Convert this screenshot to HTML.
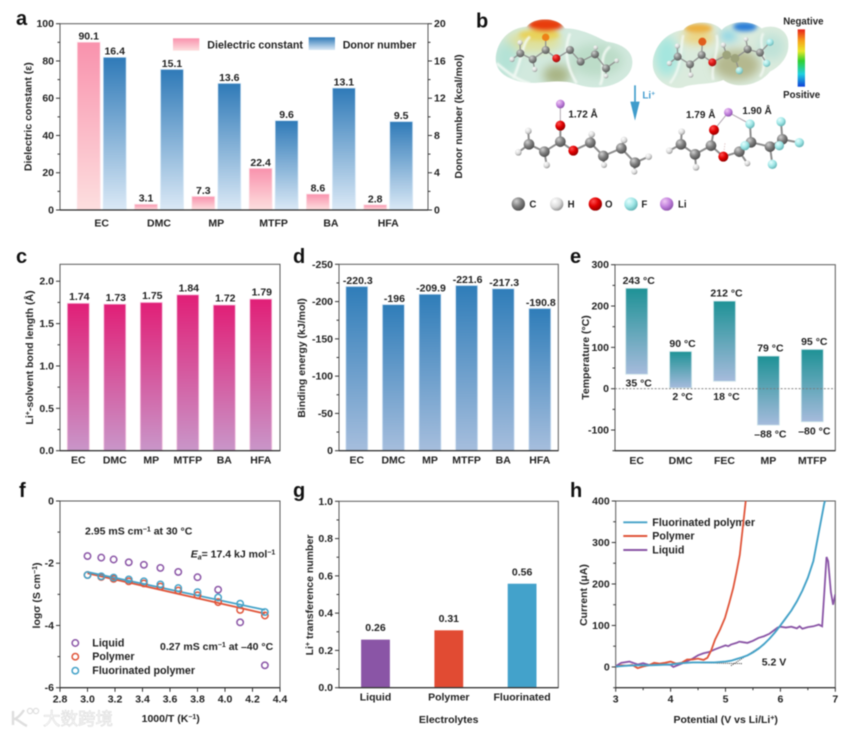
<!DOCTYPE html>
<html lang="en">
<head>
<meta charset="utf-8">
<title>Electrolyte solvent properties figure</title>
<style>
html,body{margin:0;padding:0;background:#fff;}
#figure{display:block;filter:blur(.45px);font-family:"Liberation Sans","Noto Sans CJK SC",sans-serif;}
#figure text{font-weight:700;fill:#222;font-size:10.5px;}
#figure .letter{font-size:20px;fill:#111;}
#figure .t10{font-size:10.7px;}
.c{fill:url(#atom-c);} .h{fill:url(#atom-h);} .o{fill:url(#atom-o);} .f{fill:url(#atom-f);} .li{fill:url(#atom-li);}
.bond{stroke:#8d8d8d;stroke-width:6;fill:none;stroke-linecap:round;}
.thin{stroke:#b0a6b0;stroke-width:3;fill:none;}
</style>
</head>
<body>
<svg id="figure" xmlns="http://www.w3.org/2000/svg" width="858" height="735" viewBox="0 0 858 735">
<defs>
<linearGradient id="g-pink" x1="0" y1="0" x2="0" y2="1"><stop offset="0" stop-color="#f992ad"/><stop offset="1" stop-color="#fddfdf"/></linearGradient>
<linearGradient id="g-blue" x1="0" y1="0" x2="0" y2="1"><stop offset="0" stop-color="#2f7ab8"/><stop offset="1" stop-color="#dbe9f6"/></linearGradient>
<linearGradient id="g-magenta" x1="0" y1="0" x2="0" y2="1"><stop offset="0" stop-color="#e11f77"/><stop offset="1" stop-color="#c996c9"/></linearGradient>
<linearGradient id="g-steel" x1="0" y1="0" x2="0" y2="1"><stop offset="0" stop-color="#2f7db9"/><stop offset="1" stop-color="#a6bedd"/></linearGradient>
<linearGradient id="g-teal" x1="0" y1="0" x2="0" y2="1"><stop offset="0" stop-color="#1e9296"/><stop offset="1" stop-color="#a6bbdc"/></linearGradient>
<linearGradient id="g-rainbow" x1="0" y1="0" x2="0" y2="1"><stop offset="0" stop-color="#e8201a"/><stop offset=".2" stop-color="#f7a21a"/><stop offset=".38" stop-color="#e8e82a"/><stop offset=".55" stop-color="#30d030"/><stop offset=".78" stop-color="#20d0e0"/><stop offset="1" stop-color="#1040d8"/></linearGradient>
<radialGradient id="atom-c" cx=".35" cy=".3" r=".75"><stop offset="0" stop-color="#d0d0d0"/><stop offset=".5" stop-color="#808080"/><stop offset="1" stop-color="#4a4a4a"/></radialGradient>
<radialGradient id="atom-h" cx=".35" cy=".3" r=".75"><stop offset="0" stop-color="#fff"/><stop offset=".6" stop-color="#d8d8d8"/><stop offset="1" stop-color="#8c8c8c"/></radialGradient>
<radialGradient id="atom-o" cx=".35" cy=".3" r=".75"><stop offset="0" stop-color="#ff5050"/><stop offset=".5" stop-color="#e00000"/><stop offset="1" stop-color="#8c0000"/></radialGradient>
<radialGradient id="atom-f" cx=".35" cy=".3" r=".75"><stop offset="0" stop-color="#e6ffff"/><stop offset=".55" stop-color="#9fe6e6"/><stop offset="1" stop-color="#5eaeb0"/></radialGradient>
<radialGradient id="atom-li" cx=".35" cy=".3" r=".75"><stop offset="0" stop-color="#f0c8f4"/><stop offset=".55" stop-color="#c080dc"/><stop offset="1" stop-color="#8a50a8"/></radialGradient>
<filter id="blur-soft" x="-30%" y="-30%" width="160%" height="160%"><feGaussianBlur stdDeviation="14"/></filter>
<filter id="blur-edge" x="-20%" y="-30%" width="140%" height="160%"><feGaussianBlur stdDeviation="6"/></filter>
<filter id="blur-outline" x="-5%" y="-5%" width="110%" height="110%"><feGaussianBlur stdDeviation="2.5"/></filter>
<clipPath id="clip-left"><path d="M137,175C140,130 170,85 230,80C250,52 320,48 345,85C390,85 430,105 470,125C510,130 550,150 547,190C545,235 490,262 440,262C400,265 370,245 340,245C300,240 260,255 210,245C170,235 137,215 137,175Z"/></clipPath>
<clipPath id="clip-right"><path d="M608,190C610,140 650,95 700,90C720,62 790,58 815,90C840,62 900,58 935,85C975,70 1015,90 1015,130C1018,170 990,200 960,215C930,255 860,270 820,240C780,255 720,250 700,262C660,272 608,240 608,190Z"/></clipPath>
<clipPath id="clip-h"><rect x="615.7" y="501" width="219.6" height="186.7"/></clipPath>
</defs>

<!-- Panel letters -->
<text class="letter" x="16" y="25">a</text>
<text class="letter" x="476" y="27.5">b</text>
<text class="letter" x="16" y="263">c</text>
<text class="letter" x="293" y="263">d</text>
<text class="letter" x="570" y="263">e</text>
<text class="letter" x="19" y="497">f</text>
<text class="letter" x="293" y="497">g</text>
<text class="letter" x="570" y="497">h</text>

<!-- Axis titles -->
<text text-anchor="middle" transform="translate(31.5,116.7) rotate(-90)">Dielectric constant (ε)</text>
<text text-anchor="middle" transform="translate(462,116.5) rotate(-90)">Donor number (kcal/mol)</text>
<text text-anchor="middle" transform="translate(33,357.5) rotate(-90)">Li<tspan dy="-3" font-size="7">+</tspan><tspan dy="3">-solvent bond length (Å)</tspan></text>
<text text-anchor="middle" transform="translate(305,358) rotate(-90)">Binding energy (kJ/mol)</text>
<text text-anchor="middle" transform="translate(589,357.5) rotate(-90)">Temperature (°C)</text>
<text text-anchor="middle" transform="translate(40,595.5) rotate(-90)">logσ (S cm<tspan dy="-3" font-size="7">−1</tspan><tspan dy="3">)</tspan></text>
<text text-anchor="middle" x="170.7" y="722">1000/T (K<tspan dy="-3" font-size="7">−1</tspan><tspan dy="3">)</tspan></text>
<text text-anchor="middle" transform="translate(313,595) rotate(-90)">Li<tspan dy="-3" font-size="7">+</tspan><tspan dy="3"> transference number</tspan></text>
<text text-anchor="middle" x="448.7" y="723">Electrolytes</text>
<text text-anchor="middle" transform="translate(587,595) rotate(-90)">Current (μA)</text>
<text text-anchor="middle" x="725.7" y="723">Potential (V vs Li/Li<tspan dy="-3" font-size="7">+</tspan><tspan dy="3">)</tspan></text>

<!-- Panel a legend -->
<g>
<rect x="173" y="38.3" width="26.3" height="12.4" fill="url(#g-pink)"/>
<text class="t10" x="207.3" y="48.7">Dielectric constant</text>
<rect x="308.7" y="37.3" width="26.3" height="12.7" fill="url(#g-blue)"/>
<text class="t10" x="342.7" y="48.3">Donor number</text>
</g>

<!-- Panel b -->
<g transform="translate(450,0) scale(.33333)">
<g clip-path="url(#clip-left)">
<rect x="120" y="30" width="450" height="250" fill="#d2e9de"/>
<g filter="url(#blur-soft)">
<ellipse cx="250" cy="125" rx="85" ry="30" fill="#dfe09a"/>
<ellipse cx="320" cy="225" rx="40" ry="30" fill="#a8b484"/>
<ellipse cx="440" cy="180" rx="80" ry="50" fill="#bcdcc8"/>
<ellipse cx="170" cy="175" rx="35" ry="50" fill="#b4e2d6"/>
</g>
<g filter="url(#blur-edge)">
<ellipse cx="268" cy="105" rx="62" ry="16" fill="#e8d25a"/>
<ellipse cx="287" cy="74" rx="52" ry="20" fill="#e83c0e"/>
</g>
<g filter="url(#blur-outline)">
<path d="M190,235C220,170 215,130 240,110M360,100C340,150 350,200 380,250M480,140C440,170 470,220 450,255M140,190C170,215 200,240 240,250" stroke="#f6fbf7" stroke-width="8" fill="none" opacity=".85"/>
</g>
</g>
<g clip-path="url(#clip-right)">
<rect x="590" y="40" width="450" height="250" fill="#dbebdd"/>
<g filter="url(#blur-soft)">
<ellipse cx="650" cy="170" rx="35" ry="60" fill="#a4e6de"/>
<ellipse cx="860" cy="195" rx="70" ry="45" fill="#b4b88e"/>
<ellipse cx="965" cy="140" rx="40" ry="40" fill="#bfe2d8"/>
<ellipse cx="745" cy="112" rx="50" ry="18" fill="#f0d070"/>
<ellipse cx="835" cy="108" rx="26" ry="14" fill="#70cce8"/>
</g>
<g filter="url(#blur-edge)">
<ellipse cx="745" cy="85" rx="42" ry="14" fill="#ecb040"/>
<ellipse cx="885" cy="80" rx="36" ry="14" fill="#2a7ed8"/>
</g>
<g filter="url(#blur-outline)">
<path d="M660,250C700,200 690,140 700,105M790,240C780,200 810,150 800,105M940,100C920,130 960,190 930,230" stroke="#f6fbf6" stroke-width="7" fill="none" opacity=".8"/>
</g>
</g>

<g opacity=".9">
<path class="bond" style="stroke-width:4" d="M287,112L287,150L248,178L211,160M287,150L319,175L360,150L392,185L435,163L468,205M211,160L210,128M211,160L186,178M248,178L254,208M468,205L500,182M468,205L468,228"/>
<circle class="o" style="fill:#ee7a10" cx="287" cy="112" r="11"/>
<circle class="c" cx="287" cy="150" r="12"/>
<circle class="c" cx="248" cy="178" r="12"/>
<circle class="c" cx="211" cy="160" r="12"/>
<circle class="h" cx="210" cy="128" r="8"/>
<circle class="h" cx="186" cy="178" r="8"/>
<circle class="h" cx="254" cy="208" r="8"/>
<circle class="o" cx="319" cy="175" r="12"/>
<circle class="c" cx="360" cy="150" r="12"/>
<circle class="c" cx="392" cy="185" r="12"/>
<circle class="c" cx="435" cy="163" r="12"/>
<circle class="h" cx="437" cy="143" r="7"/>
<circle class="c" cx="468" cy="205" r="12"/>
<circle class="h" cx="500" cy="182" r="7"/>
<circle class="h" cx="468" cy="228" r="7"/>
</g>

<g opacity=".9">
<path class="bond" style="stroke-width:4" d="M757,125L755,165L720,193L683,170M755,165L787,187L830,165L855,175L893,148L930,158M683,170L682,138M683,170L658,190M720,193L722,225M855,175L868,212M830,165L820,135M893,148L888,118M930,158L960,127M930,158L950,190"/>
<circle class="o" style="fill:#e0500e" cx="757" cy="125" r="12"/>
<circle class="c" cx="755" cy="165" r="12"/>
<circle class="c" cx="720" cy="193" r="12"/>
<circle class="c" cx="683" cy="170" r="12"/>
<circle class="h" cx="682" cy="138" r="8"/>
<circle class="h" cx="658" cy="190" r="8"/>
<circle class="h" cx="722" cy="225" r="8"/>
<circle class="o" cx="787" cy="187" r="12"/>
<circle class="c" style="fill:#9aa078" cx="830" cy="165" r="13"/>
<circle class="h" cx="820" cy="135" r="8"/>
<circle class="c" style="fill:#9aa078" cx="855" cy="175" r="13"/>
<circle class="f" cx="868" cy="212" r="11"/>
<circle class="c" cx="893" cy="148" r="12"/>
<circle class="h" cx="888" cy="118" r="7"/>
<circle class="c" cx="930" cy="158" r="12"/>
<circle class="f" cx="960" cy="127" r="11"/>
<circle class="f" cx="950" cy="190" r="11"/>
</g>

<g>
<path class="thin" d="M331,312L331,377"/>
<path class="bond" d="M331,377L331,425L283,455L237,433M331,425L370,452L421,428L460,468L514,445L555,488M237,433L235,393M237,433L205,457M283,455L290,495M421,428L425,403M460,468L462,495M514,445L522,420M555,488L596,470M555,488L553,515" />
<circle class="li" cx="331" cy="312" r="13"/>
<circle class="o" cx="331" cy="377" r="15"/>
<circle class="c" cx="331" cy="425" r="16"/>
<circle class="c" cx="283" cy="455" r="16"/>
<circle class="c" cx="237" cy="433" r="16"/>
<circle class="h" cx="235" cy="393" r="10"/>
<circle class="h" cx="205" cy="457" r="10"/>
<circle class="h" cx="290" cy="495" r="10"/>
<circle class="o" cx="370" cy="452" r="15"/>
<circle class="c" cx="421" cy="428" r="16"/>
<circle class="h" cx="425" cy="403" r="10"/>
<circle class="c" cx="460" cy="468" r="16"/>
<circle class="h" cx="462" cy="495" r="9"/>
<circle class="c" cx="514" cy="445" r="16"/>
<circle class="h" cx="522" cy="420" r="10"/>
<circle class="c" cx="555" cy="488" r="16"/>
<circle class="h" cx="596" cy="470" r="10"/>
<circle class="h" cx="553" cy="515" r="9"/>
</g>

<g>
<path class="thin" d="M835,337L792,390M835,337L900,372"/>
<path class="thin" stroke-dasharray="4 4" style="stroke:#e0c8c8" d="M825,430L820,470"/>
<path class="bond" d="M792,390L783,437L735,463L693,433M783,437L820,470L868,455L903,427L960,440L997,418M693,433L695,395M693,433L658,452M735,463L738,502M868,455L892,490M903,427L900,372M903,427L885,437M960,440L967,493M960,440L988,437M997,418L993,365M997,418L1048,428"/>
<circle class="li" cx="835" cy="337" r="13"/>
<circle class="o" cx="792" cy="390" r="15"/>
<circle class="c" cx="783" cy="437" r="16"/>
<circle class="c" cx="735" cy="463" r="16"/>
<circle class="c" cx="693" cy="433" r="16"/>
<circle class="h" cx="695" cy="395" r="10"/>
<circle class="h" cx="658" cy="452" r="10"/>
<circle class="h" cx="738" cy="502" r="10"/>
<circle class="o" cx="820" cy="470" r="15"/>
<circle class="c" cx="868" cy="455" r="16"/>
<circle class="h" cx="892" cy="490" r="9"/>
<circle class="c" cx="903" cy="427" r="16"/>
<circle class="f" cx="900" cy="372" r="14"/>
<circle class="f" cx="885" cy="437" r="14"/>
<circle class="c" cx="960" cy="440" r="16"/>
<circle class="f" cx="967" cy="493" r="14"/>
<circle class="c" cx="997" cy="418" r="16"/>
<circle class="f" cx="988" cy="437" r="14"/>
<circle class="f" cx="993" cy="365" r="14"/>
<circle class="f" cx="1048" cy="428" r="14"/>
</g>

<g>
<circle class="c" cx="205" cy="612" r="20"/>
<text x="238" y="623" style="font-size:29px">C</text>
<circle class="h" cx="320" cy="612" r="20"/>
<text x="353" y="623" style="font-size:29px">H</text>
<circle class="o" cx="436" cy="612" r="20"/>
<text x="465" y="623" style="font-size:29px">O</text>
<circle class="f" cx="543" cy="612" r="20"/>
<text x="574" y="623" style="font-size:29px">F</text>
<circle class="li" cx="650" cy="612" r="20"/>
<text x="684" y="623" style="font-size:29px">Li</text>
</g>

<text x="355" y="352" style="font-size:30px">1.72 Å</text>
<text x="708" y="354" style="font-size:30px">1.79 Å</text>
<text x="877" y="342" style="font-size:30px">1.90 Å</text>

<g>
<path d="M555,256L555,320" stroke="#3f9ccb" stroke-width="5" fill="none"/>
<path d="M541,305L569,305L555,362Z" fill="#3f9ccb"/>
</g>
<text x="577" y="296" style="font-size:30px;fill:#4a9fd0">Li<tspan dy="-9" font-size="20">+</tspan></text>

<rect x="1043" y="88" width="22" height="172" fill="url(#g-rainbow)"/>
<text text-anchor="middle" x="1060" y="73" style="font-size:29px">Negative</text>
<text text-anchor="middle" x="1055" y="294" style="font-size:29px">Positive</text>
</g>

<!-- Panel f annotations & legend -->
<text x="85" y="534.3">2.95 mS cm<tspan dy="-3" font-size="7">−1</tspan><tspan dy="3"> at 30 °C</tspan></text>
<text x="190.7" y="557.7"><tspan font-style="italic">E</tspan><tspan dy="2" font-size="7" font-style="italic">a</tspan><tspan dy="-2">= 17.4 kJ mol</tspan><tspan dy="-3" font-size="7">−1</tspan></text>
<text x="160" y="650">0.27 mS cm<tspan dy="-3" font-size="7">−1</tspan><tspan dy="3"> at –40 °C</tspan></text>
<g>
<circle cx="75.3" cy="643" r="3.2" fill="none" stroke="#8a55a6" stroke-width="1.5"/>
<text class="t10" x="92.3" y="646.5">Liquid</text>
<circle cx="75.3" cy="656.7" r="3.2" fill="none" stroke="#e0553a" stroke-width="1.5"/>
<text class="t10" x="92.3" y="660.2">Polymer</text>
<circle cx="75.3" cy="670.7" r="3.2" fill="none" stroke="#44a2c8" stroke-width="1.5"/>
<text class="t10" x="92.3" y="674.2">Fluorinated polymer</text>
</g>

<!-- Panel h legend -->
<g>
<line x1="623.3" x2="647.3" y1="522.3" y2="522.3" stroke="#44a2c8" stroke-width="1.9"/>
<text class="t10" x="652.3" y="526">Fluorinated polymer</text>
<line x1="623.3" x2="647.3" y1="536" y2="536" stroke="#e0553a" stroke-width="1.9"/>
<text class="t10" x="652.3" y="539.7">Polymer</text>
<line x1="623.3" x2="647.3" y1="550" y2="550" stroke="#8a55a6" stroke-width="1.9"/>
<text class="t10" x="652.3" y="553.7">Liquid</text>
</g>
<text x="761.7" y="665.3">5.2 V</text>

<!-- Watermark -->
<g>
<path d="M13,711L13,725M24,710C20,716 17,718 15,719C19,720 22,724 27,726" fill="none" stroke="#dedede" stroke-width="2.4"/>
<circle cx="30" cy="711" r="2.6" fill="none" stroke="#dedede" stroke-width="1.2"/>
<circle cx="36" cy="711" r="2.6" fill="none" stroke="#dedede" stroke-width="1.2"/>
<text x="43" y="725" style="font-size:17.5px;font-weight:400;fill:#fafafa;stroke:#d8d8d8;stroke-width:.5px;">大数跨境</text>
</g>
</svg>

<script>
// ---------- Panel a data ----------
const solvents = ['EC', 'DMC', 'MP', 'MTFP', 'BA', 'HFA'];
const dielectricConstant = [90.1, 3.1, 7.3, 22.4, 8.6, 2.8];
const donorNumber = [16.4, 15.1, 13.6, 9.6, 13.1, 9.5];
const aLeftTicks = [0, 20, 40, 60, 80, 100];
const aLeftMinor = [10, 30, 50, 70, 90];
const aRightTicks = [0, 4, 8, 12, 16, 20];
const aRightMinor = [2, 6, 10, 14, 18];
// ---------- Panel c data ----------
const bondLength = [1.74, 1.73, 1.75, 1.84, 1.72, 1.79];
const cTicks = [0, 0.5, 1, 1.5, 2];
const cTickLabels = ['0.0', '0.5', '1.0', '1.5', '2.0'];
const cMinor = [0.25, 0.75, 1.25, 1.75];
// ---------- Panel d data ----------
const bindingEnergy = [-220.3, -196, -209.9, -221.6, -217.3, -190.8];
const dTicks = [0, -50, -100, -150, -200, -250];
const dMinor = [-25, -75, -125, -175, -225];
// ---------- Panel e data ----------
const tempSolvents = ['EC', 'DMC', 'FEC', 'MP', 'MTFP'];
const boilingPoint = [243, 90, 212, 79, 95];
const meltingPoint = [35, 2, 18, -88, -80];
const eTicks = [-100, 0, 100, 200, 300];
const eMinor = [-150, -50, 50, 150, 250];
// ---------- Panel f data ----------
const invTemp = [3.0, 3.1, 3.19, 3.3, 3.41, 3.53, 3.66, 3.8, 3.95, 4.11, 4.29];
const logSigmaLiquid = [-1.77, -1.82, -1.88, -1.97, -2.05, -2.15, -2.28, -2.45, -2.85, -3.9, -5.28];
const logSigmaPolymer = [-2.38, -2.44, -2.5, -2.58, -2.65, -2.75, -2.88, -3.03, -3.25, -3.5, -3.68];
const logSigmaFluorinated = [-2.38, -2.42, -2.46, -2.52, -2.58, -2.68, -2.8, -2.93, -3.1, -3.3, -3.57];
const fitInvTemp = [3.0, 4.29];
const fitPolymer = [-2.32, -3.62];
const fitFluorinated = [-2.28, -3.5];
const fXTicks = [2.8, 3, 3.2, 3.4, 3.6, 3.8, 4, 4.2, 4.4];
const fXTickLabels = ['2.8', '3.0', '3.2', '3.4', '3.6', '3.8', '4.0', '4.2', '4.4'];
const fYTicks = [0, -2, -4, -6];
const fYMinor = [-1, -3, -5];
// ---------- Panel g data ----------
const electrolytes = ['Liquid', 'Polymer', 'Fluorinated'];
const transference = [0.26, 0.31, 0.56];
const gColors = ['#8a55a6', '#e14b33', '#43a2cb'];
const gTicks = [0, 0.2, 0.4, 0.6, 0.8, 1];
const gTickLabels = ['0.0', '0.2', '0.4', '0.6', '0.8', '1.0'];
const gMinor = [0.1, 0.3, 0.5, 0.7, 0.9];
// ---------- Panel h data ----------
const fluorV = [3, 3.2, 3.4, 3.6, 3.8, 4, 4.2, 4.4, 4.6, 4.8, 5, 5.1, 5.2, 5.3, 5.4, 5.5, 5.6, 5.7, 5.8, 5.9, 6, 6.1, 6.2, 6.3, 6.4, 6.5, 6.6, 6.7, 6.8, 6.82];
const fluorI = [1, 3, 4, 4, 5, 6, 9, 11, 11, 11, 13, 15, 19, 23, 28, 35, 44, 55, 68, 83, 100, 118, 136, 158, 184, 215, 255, 325, 395, 402];
const polyV = [3, 3.1, 3.2, 3.3, 3.4, 3.5, 3.6, 3.7, 3.8, 3.9, 4, 4.1, 4.2, 4.3, 4.4, 4.5, 4.6, 4.67, 4.74, 4.81, 4.9, 4.99, 5.07, 5.14, 5.2, 5.26, 5.32, 5.37];
const polyI = [0, 4, 3, 5, -3, 1, 4, 10, 8, 10, 13, 8, 10, 18, 18, 20, 17, 22, 40, 66, 90, 118, 155, 190, 228, 270, 342, 402];
const liquidV = [3, 3.1, 3.25, 3.4, 3.5, 3.6, 3.8, 4, 4.05, 4.2, 4.3, 4.4, 4.5, 4.6, 4.7, 4.8, 4.9, 5, 5.05, 5.1, 5.2, 5.25, 5.3, 5.4, 5.5, 5.6, 5.7, 5.8, 5.9, 5.95, 6, 6.1, 6.2, 6.3, 6.35, 6.4, 6.5, 6.6, 6.7, 6.76, 6.8, 6.84, 6.87, 6.92, 6.96, 7];
const liquidI = [2, 10, 13, 6, 9, 5, 6, 5, 0, 8, 14, 20, 28, 33, 36, 42, 47, 52, 50, 54, 58, 61, 60, 58, 63, 70, 74, 80, 90, 95, 97, 95, 97, 93, 98, 92, 96, 98, 102, 98, 180, 265, 255, 180, 150, 175];
const baselineV = [4.55, 5.3];
const baselineI = [10, 8];
const tangentV = [5.1, 5.65];
const tangentI = [3, 50];
const hXTicks = [3, 4, 5, 6, 7];
const hXMinor = [3.5, 4.5, 5.5, 6.5];
const hYTicks = [0, 100, 200, 300, 400];
const hYMinor = [-50, 50, 150, 250, 350];

const NS = 'http://www.w3.org/2000/svg';
const fig = document.getElementById('figure');

function make(tag, attrs, parent) {
  const e = document.createElementNS(NS, tag);
  for (const k in attrs) e.setAttribute(k, attrs[k]);
  (parent || fig).appendChild(e);
  return e;
}
function linear(d0, d1, r0, r1) {
  return function (v) { return r0 + (v - d0) * (r1 - r0) / (d1 - d0); };
}
function drawFrame(prefix, b) {
  const r = make('rect', { x: b.l, y: b.t, width: b.r - b.l, height: b.b - b.t, fill: 'none', stroke: '#5a5a5a', 'stroke-width': 1 });
  
  
  const base = make('line', { x1: b.l, x2: b.r, y1: b.b, y2: b.b, stroke: '#2a2a2a', 'stroke-width': 1.2 });
  
  
}
function drawYTicks(prefix, scale, x, dir, majors, minors, labels) {
  majors.forEach(function (v, i) {
    const t = make('line', { x1: x, x2: x + dir * 4, y1: scale(v), y2: scale(v), stroke: '#333', 'stroke-width': 1 });
    
    
    const lab = make('text', { x: x + dir * 6, y: scale(v) + 3.5, 'text-anchor': dir < 0 ? 'end' : 'start' });
    lab.textContent = labels ? labels[i] : String(v);
    
    
  });
  minors.forEach(function (v) {
    const t = make('line', { x1: x, x2: x + dir * 2.5, y1: scale(v), y2: scale(v), stroke: '#333', 'stroke-width': 1 });
    
    
  });
}
function drawXTicks(prefix, scale, y, majors, minors, labels) {
  majors.forEach(function (v, i) {
    const t = make('line', { x1: scale(v), x2: scale(v), y1: y, y2: y + 4, stroke: '#333', 'stroke-width': 1 });
    
    
    const lab = make('text', { x: scale(v), y: y + 15, 'text-anchor': 'middle' });
    lab.textContent = labels ? labels[i] : String(v);
    
    
  });
  minors.forEach(function (v) {
    const t = make('line', { x1: scale(v), x2: scale(v), y1: y, y2: y + 2.5, stroke: '#333', 'stroke-width': 1 });
    
    
  });
}
function drawBar(name, cx, w, yA, yB, fill, stroke) {
  const r = make('rect', { x: cx - w / 2, y: Math.min(yA, yB), width: w, height: Math.abs(yB - yA), fill: fill, stroke: stroke, 'stroke-width': 0.8 });
  
  
}
function drawLabel(name, x, y, str, anchor) {
  const t = make('text', { x: x, y: y, 'text-anchor': anchor || 'middle' });
  t.textContent = str;
  
  
}
function drawCatLabels(prefix, cats, xFn, y) {
  cats.forEach(function (c, i) {
    drawLabel(prefix + '-category-label-' + c.toLowerCase(), xFn(i), y, c);
  });
}
function pathOf(xs, ys, sx, sy) {
  return xs.map(function (v, i) { return (i ? 'L' : 'M') + sx(v).toFixed(2) + ',' + sy(ys[i]).toFixed(2); }).join('');
}

// ---------- Panel a ----------
(function () {
  const b = { l: 60, r: 428, t: 23.7, b: 210 };
  const yL = linear(0, 100, b.b, b.t);
  const yR = linear(0, 20, b.b, b.t);
  const xC = function (i) { return 101.7 + 57.3 * i; };
  solvents.forEach(function (c, i) {
    drawBar('dielectric-bar-' + c.toLowerCase(), xC(i) - 13, 23, b.b, yL(dielectricConstant[i]), 'url(#g-pink)', '#fde4ea');
    drawBar('donor-bar-' + c.toLowerCase(), xC(i) + 13, 23, b.b, yR(donorNumber[i]), 'url(#g-blue)', '#dcebf7');
    drawLabel('dielectric-value-' + c.toLowerCase(), xC(i) - 13, yL(dielectricConstant[i]) - 2.5, dielectricConstant[i].toFixed(1));
    drawLabel('donor-value-' + c.toLowerCase(), xC(i) + 13, yR(donorNumber[i]) - 2.5, donorNumber[i].toFixed(1));
  });
  drawFrame('a', b);
  drawYTicks('a-left', yL, b.l, -1, aLeftTicks, aLeftMinor);
  drawYTicks('a-right', yR, b.r, 1, aRightTicks, aRightMinor);
  drawCatLabels('a', solvents, xC, 226.7);
})();

// ---------- Panel c ----------
(function () {
  const b = { l: 60, r: 280, t: 264.3, b: 450.7 };
  const y = linear(0, 2.2, b.b, b.t);
  const xC = function (i) { return 78.3 + 36.5 * i; };
  solvents.forEach(function (c, i) {
    drawBar('bond-length-bar-' + c.toLowerCase(), xC(i), 22, b.b, y(bondLength[i]), 'url(#g-magenta)', '#f7c8e2');
    drawLabel('bond-length-value-' + c.toLowerCase(), xC(i) + 1, y(bondLength[i]) - 3.3, bondLength[i].toFixed(2));
  });
  drawFrame('c', b);
  drawYTicks('c', y, b.l, -1, cTicks, cMinor, cTickLabels);
  drawCatLabels('c', solvents, xC, 463.5);
})();

// ---------- Panel d ----------
(function () {
  const b = { l: 339, r: 558.3, t: 264.3, b: 450.7 };
  const y = linear(0, -250, b.b, b.t);
  const xC = function (i) { return 356.8 + 36.6 * i; };
  solvents.forEach(function (c, i) {
    drawBar('binding-energy-bar-' + c.toLowerCase(), xC(i), 22, b.b, y(bindingEnergy[i]), 'url(#g-steel)', '#d4e4f4');
    drawLabel('binding-energy-value-' + c.toLowerCase(), xC(i) + 1, y(bindingEnergy[i]) - 2.5, String(bindingEnergy[i]));
  });
  drawFrame('d', b);
  drawYTicks('d', y, b.l, -1, dTicks, dMinor);
  drawCatLabels('d', solvents, xC, 463.5);
})();

// ---------- Panel e ----------
(function () {
  const b = { l: 615, r: 835.3, t: 264.7, b: 450.7 };
  const y = linear(-150, 300, b.b, b.t);
  const xC = function (i) { return 636.7 + 43.9 * i; };
  const degLabel = function (v) { return (v < 0 ? '–' + Math.abs(v) : String(v)) + ' °C'; };
  tempSolvents.forEach(function (c, i) {
    const name = c.toLowerCase();
    drawBar('temperature-range-bar-' + name, xC(i), 22, y(meltingPoint[i]), y(boilingPoint[i]), 'url(#g-teal)', '#cfe6ea');
    drawLabel('boiling-point-label-' + name, xC(i) + 2, y(boilingPoint[i]) - 4.4, degLabel(boilingPoint[i]));
    const low = meltingPoint[i];
    const lowY = (low >= 0 && low < 25) ? y(0) + 11.5 : y(low) + 12.5;
    drawLabel('melting-point-label-' + name, xC(i) + 2, lowY, degLabel(low));
  });
  drawFrame('e', b);
  const zero = make('line', { x1: b.l, x2: b.r, y1: y(0), y2: y(0), stroke: '#777', 'stroke-width': 0.8, 'stroke-dasharray': '2 1.6' });
  
  
  drawYTicks('e', y, b.l, -1, eTicks, eMinor);
  drawCatLabels('e', tempSolvents, xC, 464);
})();

// ---------- Panel f ----------
(function () {
  const b = { l: 60, r: 280, t: 501, b: 687.7 };
  const x = linear(2.8, 4.4, b.l, b.r);
  const y = linear(0, -6, b.t, b.b);
  drawFrame('f', b);
  drawYTicks('f', y, b.l, -1, fYTicks, fYMinor);
  drawXTicks('f', x, b.b, fXTicks, [], fXTickLabels);
  const polyFit = make('path', { d: pathOf(fitInvTemp, fitPolymer, x, y), stroke: '#e0553a', 'stroke-width': 1.8, fill: 'none' });
  
  
  const fluorFit = make('path', { d: pathOf(fitInvTemp, fitFluorinated, x, y), stroke: '#44a2c8', 'stroke-width': 1.8, fill: 'none' });
  
  
  invTemp.forEach(function (v, i) {
    const p1 = make('circle', { cx: x(v), cy: y(logSigmaLiquid[i]), r: 3.2, fill: 'none', stroke: '#8a55a6', 'stroke-width': 1.5 });
    
    
    const p2 = make('circle', { cx: x(v), cy: y(logSigmaPolymer[i]), r: 3.2, fill: 'none', stroke: '#e0553a', 'stroke-width': 1.5 });
    
    
    const p3 = make('circle', { cx: x(v), cy: y(logSigmaFluorinated[i]), r: 3.2, fill: 'none', stroke: '#44a2c8', 'stroke-width': 1.5 });
    
    
  });
})();

// ---------- Panel g ----------
(function () {
  const b = { l: 339, r: 558.3, t: 501.3, b: 687.7 };
  const y = linear(0, 1, b.b, b.t);
  const xC = function (i) { return 375.5 + 73.3 * i; };
  electrolytes.forEach(function (c, i) {
    drawBar('transference-bar-' + c.toLowerCase(), xC(i), 29.6, b.b, y(transference[i]), gColors[i], '#ffffff');
    drawLabel('transference-value-' + c.toLowerCase(), xC(i), y(transference[i]) - 8, transference[i].toFixed(2));
  });
  drawFrame('g', b);
  drawYTicks('g', y, b.l, -1, gTicks, gMinor, gTickLabels);
  drawCatLabels('g', electrolytes, xC, 700.7);
})();

// ---------- Panel h ----------
(function () {
  const b = { l: 615.7, r: 835.3, t: 501, b: 687.7 };
  const x = linear(3, 7, b.l, b.r);
  const y = linear(-50, 400, b.b, b.t);
  drawFrame('h', b);
  drawYTicks('h', y, b.l, -1, hYTicks, hYMinor);
  drawXTicks('h', x, b.b, hXTicks, hXMinor);
  const base = make('path', { d: pathOf(baselineV, baselineI, x, y), stroke: '#222', 'stroke-width': 0.9, 'stroke-dasharray': '1 1', fill: 'none' });
  
  
  const tan = make('path', { d: pathOf(tangentV, tangentI, x, y), stroke: '#222', 'stroke-width': 0.9, 'stroke-dasharray': '1 1', fill: 'none' });
  
  
  const lq = make('path', { d: pathOf(liquidV, liquidI, x, y), stroke: '#8a55a6', 'stroke-width': 1.8, fill: 'none', 'clip-path': 'url(#clip-h)' });
  
  
  const pl = make('path', { d: pathOf(polyV, polyI, x, y), stroke: '#e0553a', 'stroke-width': 1.8, fill: 'none', 'clip-path': 'url(#clip-h)' });
  
  
  const fl = make('path', { d: pathOf(fluorV, fluorI, x, y), stroke: '#44a2c8', 'stroke-width': 1.9, fill: 'none', 'clip-path': 'url(#clip-h)' });
  
  
})();
</script>
</body>
</html>
